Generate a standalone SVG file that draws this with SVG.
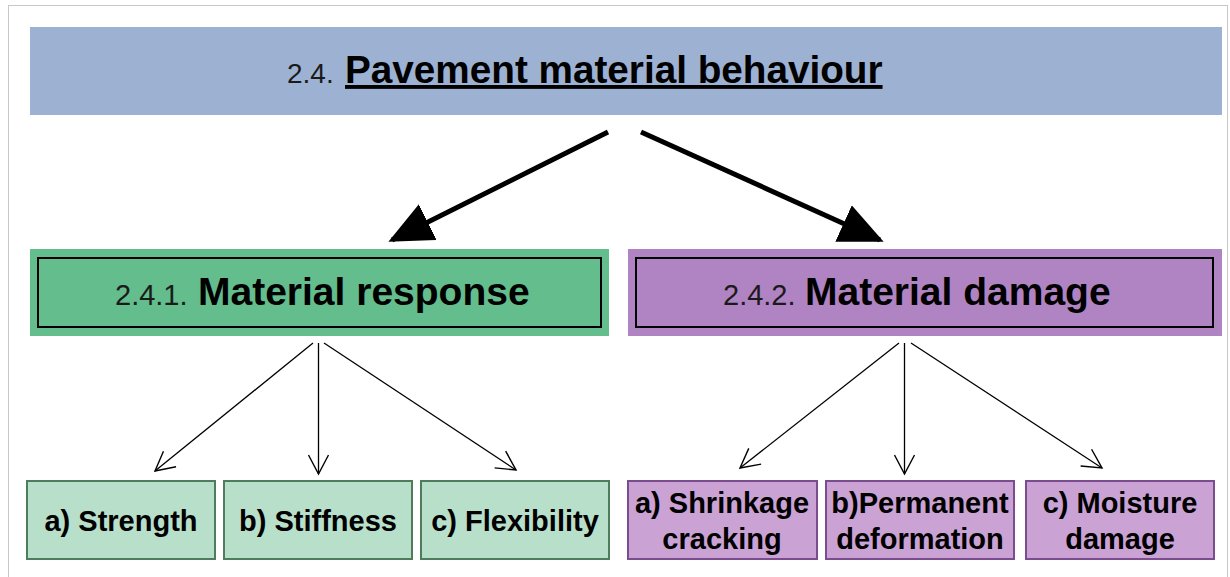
<svg xmlns="http://www.w3.org/2000/svg" width="1230" height="577" viewBox="0 0 1230 577">
  <style>
    .frame { fill: none; stroke: #c8c8c8; stroke-width: 1; }
    .num { font-family: "Liberation Sans", Arial, sans-serif; font-weight: normal; fill: #1a1a1a; }
    .head { font-family: "Liberation Sans", Arial, sans-serif; font-weight: bold; fill: #000; }
    .leaf { font-family: "Liberation Sans", Arial, sans-serif; font-weight: bold; font-size: 29px; fill: #000; text-anchor: middle; }
    .inner { fill: none; stroke: #000; stroke-width: 2; }
    .resp-leaf { fill: #b8dfca; stroke: #4d7d5c; stroke-width: 2; }
    .dmg-leaf { fill: #caa3d4; stroke: #7c4d8e; stroke-width: 2; }
    .thick { stroke: #000; stroke-width: 5; fill: none; marker-end: url(#bigHead); }
    .thin { stroke: #000; stroke-width: 1.3; fill: none; marker-end: url(#openHead); }
  </style>
  <defs>
    <marker id="bigHead" markerUnits="userSpaceOnUse" viewBox="0 0 44 40" markerWidth="44" markerHeight="40" refX="40" refY="20" orient="auto">
      <path d="M0,0 L44,20 L0,40 z" fill="#000"/>
    </marker>
    <marker id="openHead" markerUnits="userSpaceOnUse" viewBox="0 0 24 24" markerWidth="24" markerHeight="24" refX="21" refY="12" orient="auto">
      <path d="M2,2 L21,12 L2,22" fill="none" stroke="#000" stroke-width="1.4"/>
    </marker>
  </defs>

  <rect class="frame" x="8.5" y="5.5" width="1219" height="620"/>

  <!-- top heading -->
  <g id="behaviour">
    <rect x="30" y="27" width="1192" height="88" fill="#9db2d3"/>
    <text x="287" y="83" class="num" font-size="28">2.4.</text>
    <text x="345" y="83" class="head" font-size="38.7" text-decoration="underline">Pavement material behaviour</text>
  </g>

  <!-- second level -->
  <g id="response">
    <rect x="30" y="249" width="579" height="87" fill="#63bd8c"/>
    <rect class="inner" x="38" y="258" width="563" height="69"/>
    <text x="115" y="305" class="num" font-size="29">2.4.1.</text>
    <text x="198" y="305" class="head" font-size="39">Material response</text>
  </g>
  <g id="damage">
    <rect x="628" y="249" width="594" height="87" fill="#b083c3"/>
    <rect class="inner" x="636" y="258" width="577" height="69"/>
    <text x="723" y="305" class="num" font-size="29">2.4.2.</text>
    <text x="805" y="305" class="head" font-size="39">Material damage</text>
  </g>

  <!-- response leaves -->
  <g id="strength">
    <rect class="resp-leaf" x="27" y="481" width="188" height="78"/>
    <text x="121" y="531" class="leaf">a) Strength</text>
  </g>
  <g id="stiffness">
    <rect class="resp-leaf" x="224" y="481" width="188" height="78"/>
    <text x="318" y="531" class="leaf">b) Stiffness</text>
  </g>
  <g id="flexibility">
    <rect class="resp-leaf" x="421" y="481" width="188" height="78"/>
    <text x="515" y="531" class="leaf">c) Flexibility</text>
  </g>

  <!-- damage leaves -->
  <g id="shrinkage">
    <rect class="dmg-leaf" x="628" y="481" width="189" height="78"/>
    <text x="722" y="513" class="leaf">a) Shrinkage</text>
    <text x="722" y="549" class="leaf">cracking</text>
  </g>
  <g id="permanent">
    <rect class="dmg-leaf" x="826" y="481" width="188" height="78"/>
    <text x="920" y="513" class="leaf">b)Permanent</text>
    <text x="920" y="549" class="leaf">deformation</text>
  </g>
  <g id="moisture">
    <rect class="dmg-leaf" x="1026" y="481" width="188" height="78"/>
    <text x="1120" y="513" class="leaf">c) Moisture</text>
    <text x="1120" y="549" class="leaf">damage</text>
  </g>

  <!-- connectors -->
  <g id="connectors">
    <line class="thick" x1="608" y1="132" x2="392" y2="240"/>
    <line class="thick" x1="641" y1="132" x2="880" y2="240"/>

    <line class="thin" x1="313" y1="343" x2="155" y2="471"/>
    <line class="thin" x1="318.5" y1="343" x2="318.5" y2="474"/>
    <line class="thin" x1="324" y1="343" x2="516" y2="470"/>

    <line class="thin" x1="899" y1="343" x2="740" y2="468"/>
    <line class="thin" x1="904.5" y1="343" x2="904.5" y2="474"/>
    <line class="thin" x1="911" y1="343" x2="1102" y2="468"/>
  </g>
</svg>
